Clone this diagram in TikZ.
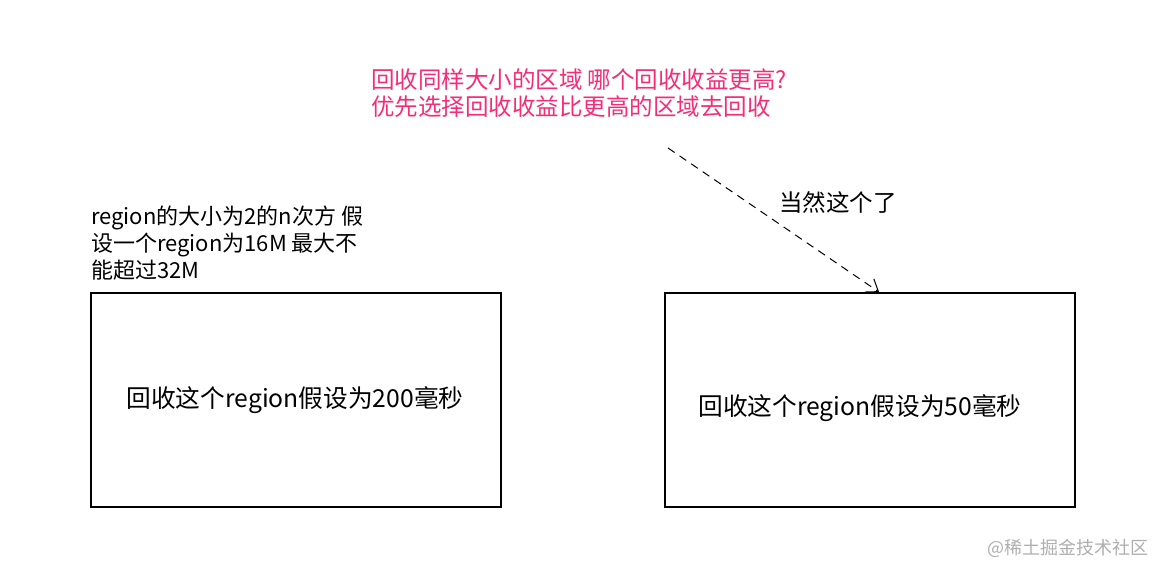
\documentclass[tikz,border=0pt]{standalone}
\usepackage{fontspec}
\setmainfont{Noto Sans CJK SC}
\usetikzlibrary{arrows.meta}
\definecolor{pinkred}{RGB}{245,45,120}
\definecolor{wmgray}{RGB}{175,175,175}
\begin{document}
\begin{tikzpicture}[x=1pt,y=-1pt,
  regbox/.style={draw=black,line width=1.8pt,minimum width=410pt,minimum height=214pt,inner sep=0pt},
  txt/.style={font=\fontsize{22}{27}\selectfont,inner sep=0pt,align=left},
  bigtxt/.style={font=\fontsize{23.5}{27}\selectfont,inner sep=0pt,align=left},
  boxtxt/.style={font=\fontsize{24.7}{28}\selectfont,inner sep=0pt},
  dasharrow/.style={draw=black,line width=1pt,dash pattern=on 8pt off 6pt,-{Straight Barb[length=11pt,width=16pt]}}]
\useasboundingbox[fill=white] (0,0) rectangle (1166,576);
\node[regbox] (lb) at (296,400) {};
\node[regbox] (rb) at (870,400) {};
\node[boxtxt] (lbt) at (295,400) {回收这个region假设为200毫秒};
\node[boxtxt] (rbt) at (860,408) {回收这个region假设为50毫秒};
\node[txt,anchor=west] (note) at (91,243) {region的大小为2的n次方 假\\设一个region为16M 最大不\\能超过32M};
\node[bigtxt,anchor=west,text=pinkred] (q) at (371,93) {回收同样大小的区域 哪个回收收益更高?\\优先选择回收收益比更高的区域去回收};
\node[bigtxt] (ans) at (838,202) {当然这个了};
\coordinate (s) at (668,148);
\coordinate (e) at ([xshift=215pt]rb.north west);
\draw[dasharrow] (s) -- (e);
\node[font=\fontsize{18}{20}\selectfont,text=wmgray,inner sep=0pt] (wm) at (1068,548) {@稀土掘金技术社区};
\end{tikzpicture}
\end{document}
